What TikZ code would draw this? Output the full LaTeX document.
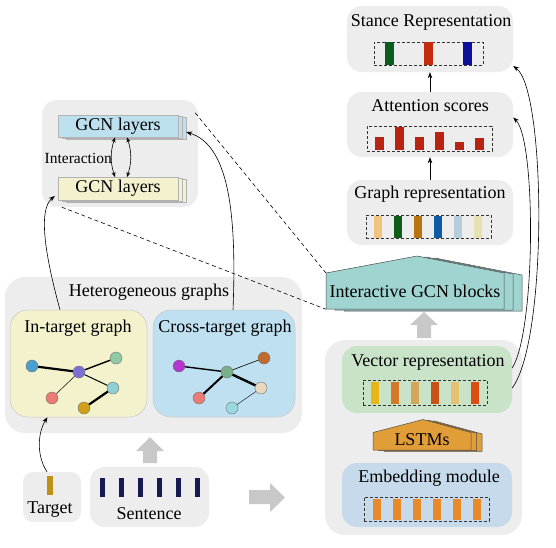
\documentclass[tikz,border=0pt]{standalone}
\usepackage{fontspec}
\setmainfont{Liberation Serif}
\usetikzlibrary{arrows.meta,calc}
\definecolor{boxgray}{HTML}{EDEDED}
\definecolor{gcnblue}{HTML}{BDE0EF}
\definecolor{gcnyellow}{HTML}{F4F2CE}
\definecolor{inyellow}{HTML}{F3F2CD}
\definecolor{crossblue}{HTML}{BEE0F0}
\definecolor{igcncol}{HTML}{A0D4D0}
\definecolor{lstmcol}{HTML}{E19D38}
\definecolor{vecgreen}{HTML}{C9E3C9}
\definecolor{embblue}{HTML}{C6DAEB}
\definecolor{arrowgray}{HTML}{C8C8C8}
\definecolor{barA}{HTML}{F2C37E}\definecolor{barB}{HTML}{0E5E1A}
\definecolor{barC}{HTML}{B87412}\definecolor{barD}{HTML}{0F5BA6}
\definecolor{barE}{HTML}{B6CDDC}\definecolor{barF}{HTML}{E6E1B2}
\definecolor{vbA}{HTML}{E6B619}\definecolor{vbB}{HTML}{D6782A}
\definecolor{vbC}{HTML}{D3A659}\definecolor{vbD}{HTML}{C85318}
\definecolor{vbE}{HTML}{E5C273}\definecolor{vbF}{HTML}{DC4D12}
\definecolor{embbar}{HTML}{E8892A}
\definecolor{attbar}{HTML}{B82312}
\definecolor{stA}{HTML}{0B5C1F}\definecolor{stB}{HTML}{C52B0F}\definecolor{stC}{HTML}{0E0E9C}
\definecolor{sentbar}{HTML}{161A52}
\definecolor{tgtbar}{HTML}{BF9114}
\definecolor{nBlue}{HTML}{4A9FD0}\definecolor{nPurple}{HTML}{7B6FD6}
\definecolor{nGreen}{HTML}{8FC9A5}\definecolor{nRed}{HTML}{EC7B74}
\definecolor{nTeal}{HTML}{8ECFD4}\definecolor{nGold}{HTML}{D29F18}
\definecolor{nMag}{HTML}{B535D2}\definecolor{nGreen2}{HTML}{79B08A}
\definecolor{nBrown}{HTML}{C06A30}\definecolor{nBeige}{HTML}{E8D8C0}
\definecolor{nCyan}{HTML}{9AD8DF}
\tikzset{
  every node/.style={inner sep=0pt, font=\fontsize{18}{21}\selectfont},
  panel/.style={fill=boxgray, draw=none, rounded corners=#1},
  panel/.default=15pt,
  gcnlayer/.style={draw=gray!60, line width=0.4pt, minimum width=120pt, minimum height=22.5pt},
  dbox/.style={draw=black!80, dashed, line width=0.6pt, dash pattern=on 3pt off 2pt},
  gnode/.style={circle, draw=black!55, line width=0.4pt, minimum size=12pt},
  arr/.style={-{Stealth[length=6pt,width=4.5pt]}, line width=0.6pt},
  darr/.style={{Stealth[length=5pt,width=4pt]}-{Stealth[length=5pt,width=4pt]}, line width=0.6pt},
  fatarrow/.style={fill=arrowgray, draw=none},
  dline/.style={dashed, line width=0.6pt, dash pattern=on 4pt off 3pt},
}
\begin{document}
\begin{tikzpicture}[x=1pt,y=-1pt]
\useasboundingbox (0,0) rectangle (556,547);

% ---------- GCN layers panel ----------
\node[panel, minimum width=156pt, minimum height=107pt] (gcnbox) at (120,153.5) {};
\node[gcnlayer, fill=gcnblue] (gcntopcb) at (126,128) {};
\node[gcnlayer, fill=gcnblue] (gcntopca) at (122,127) {};
\node[gcnlayer, fill=gcnblue] (gcntop) at (118,126) {GCN layers};
\node[gcnlayer, fill=gcnyellow] (gcnbotcb) at (126,190.5) {};
\node[gcnlayer, fill=gcnyellow] (gcnbotca) at (122,189.5) {};
\node[gcnlayer, fill=gcnyellow] (gcnbot) at (118,188.5) {GCN layers};
\draw[darr] ([xshift=-3pt]gcntop.south) to[bend right=18] ([xshift=-3pt]gcnbot.north);
\draw[darr] ([xshift=9pt]gcntop.south) to[bend left=18] ([xshift=9pt]gcnbot.north);
\node[font=\fontsize{15.5}{18}\selectfont, anchor=east] (interlbl) at (112,158) {Interaction};

% ---------- Heterogeneous graphs ----------
\node[panel=20pt, minimum width=297pt, minimum height=156pt] (hetbox) at (153.5,355) {};
\node (hettitle) at (149,292) {Heterogeneous graphs};
\node[fill=inyellow, draw=gray!45, line width=0.5pt, rounded corners=18pt, minimum width=137pt, minimum height=107pt] (intarget) at (78.5,363.5) {};
\node[fill=crossblue, draw=gray!45, line width=0.5pt, rounded corners=18pt, minimum width=142pt, minimum height=107pt] (crosstarget) at (224,363.5) {};
\node (intitle) at (78,328) {In-target graph};
\node (crosstitle) at (225,328) {Cross-target graph};

% in-target graph
\node[gnode, fill=nBlue] (a1) at (32,366) {};
\node[gnode, fill=nPurple] (a2) at (79,372) {};
\node[gnode, fill=nGreen] (a3) at (116,358) {};
\node[gnode, fill=nRed] (a4) at (52,398) {};
\node[gnode, fill=nTeal] (a5) at (113,388) {};
\node[gnode, fill=nGold] (a6) at (84,408) {};
\draw[line width=2.2pt] (a1) -- (a2);
\draw[line width=1.4pt] (a2) -- (a3);
\draw[line width=0.5pt] (a2) -- (a4);
\draw[line width=1.0pt] (a2) -- (a5);
\draw[line width=2.2pt] (a5) -- (a6);

% cross-target graph
\node[gnode, fill=nMag] (b1) at (179,366) {};
\node[gnode, fill=nGreen2] (b2) at (227,372) {};
\node[gnode, fill=nBrown] (b3) at (264,358) {};
\node[gnode, fill=nRed] (b4) at (199,398) {};
\node[gnode, fill=nBeige] (b5) at (261,388) {};
\node[gnode, fill=nCyan] (b6) at (232,408) {};
\draw[line width=1.4pt] (b1) -- (b2);
\draw[line width=0.6pt] (b2) -- (b3);
\draw[line width=2.0pt] (b2) -- (b4);
\draw[line width=2.4pt] (b2) -- (b5);
\draw[line width=0.4pt] (b5) -- (b6);

% ---------- Target & Sentence ----------
\node[panel=10pt, minimum width=58pt, minimum height=50pt] (target) at (52,497) {};
\fill[tgtbar] (47,476) rectangle (53,495);
\node (targetlbl) at (50,510) {Target};
\node[panel=14pt, minimum width=119pt, minimum height=60pt] (sentence) at (149.5,497) {};
\foreach \i in {0,...,5} { \fill[sentbar] ({99.5+19.1*\i},478) rectangle ({104.5+19.1*\i},497); }
\node (sentlbl) at (149,514) {Sentence};

% fat arrows
\fill[fatarrow] (143,463) -- (143,451) -- (136,451) -- (150,437) -- (164,451) -- (157,451) -- (157,463) -- cycle;
\fill[fatarrow] (249,490) -- (270,490) -- (270,483) -- (285,497.5) -- (270,512) -- (270,504) -- (249,504) -- cycle;
\fill[fatarrow] (417,338) -- (417,325) -- (410,325) -- (424,312) -- (438,325) -- (431,325) -- (431,338) -- cycle;

% ---------- Right column top ----------
\node[panel, minimum width=166pt, minimum height=66pt] (stance) at (430,39) {};
\node (stancelbl) at (431,22) {Stance Representation};
\node[dbox, minimum width=109pt, minimum height=23pt] (stancebar) at (428.5,53.5) {};
\fill[stA] (384.5,42) rectangle (393.5,65);
\fill[stB] (423.5,42) rectangle (432.5,65);
\fill[stC] (462.5,42) rectangle (471.5,65);

\node[panel, minimum width=166pt, minimum height=65pt] (attn) at (430,124.5) {};
\node (attnlbl) at (430,106) {Attention scores};
\node[dbox, minimum width=125pt, minimum height=25pt] (attnbar) at (429.5,138.5) {};
\foreach \xc/\yt in {379/137, 399/127, 419/137, 439/132, 459/142, 479/138} {
  \fill[attbar] ({\xc-4.5},\yt) rectangle ({\xc+4.5},150);
}

\node[panel, minimum width=166pt, minimum height=65pt] (graphrep) at (430,212.5) {};
\node (graphlbl) at (430,194) {Graph representation};
\node[dbox, minimum width=125pt, minimum height=23pt] (graphbar) at (428.5,226.5) {};
\foreach \i/\c in {0/barA, 1/barB, 2/barC, 3/barD, 4/barE, 5/barF} {
  \fill[\c] ({373.8+20*\i},215.5) rectangle ({382.3+20*\i},237.5);
}
\draw[arr] (graphrep.north) -- (attn.south);
\draw[arr] (attn.north) -- (stance.south);

% ---------- Interactive GCN blocks ----------
\foreach \dx/\dy in {18/2, 9/1, 0/0} {
  \filldraw[fill=igcncol, draw=black!70, line width=0.5pt, shift={(\dx,\dy)}]
    (326,309) -- (326,273) -- (417,256) -- (504,273) -- (504,309) -- cycle;
}
\node[minimum width=178pt, minimum height=36pt] (igcn) at (415,291) {Interactive GCN blocks};

% ---------- Right column bottom ----------
\node[panel=20pt, minimum width=197pt, minimum height=195pt] (lowbox) at (423.5,437.5) {};
\node[fill=vecgreen, rounded corners=15pt, minimum width=170pt, minimum height=67pt] (vecrep) at (427,379.5) {};
\node (veclbl) at (428,362) {Vector representation};
\node[dbox, minimum width=124pt, minimum height=25pt] (vecbar) at (425,392.5) {};
\foreach \i/\c in {0/vbA, 1/vbB, 2/vbC, 3/vbD, 4/vbE, 5/vbF} {
  \fill[\c] ({370.8+20*\i},382) rectangle ({379.3+20*\i},404);
}
\foreach \dx/\dy in {11/1.4, 5.5/0.7, 0/0} {
  \filldraw[fill=lstmcol, draw=black!70, line width=0.5pt, shift={(\dx,\dy)}]
    (373,450) -- (373,432.5) -- (423,419.5) -- (471,432.5) -- (471,450) -- cycle;
}
\node (lstm) at (422,440) {LSTMs};
\node[fill=embblue, rounded corners=15pt, minimum width=170pt, minimum height=64pt] (embed) at (427,495) {};
\node (emblbl) at (429,478) {Embedding module};
\node[dbox, minimum width=125pt, minimum height=24pt] (embbar) at (426.5,509) {};
\foreach \i in {0,...,5} { \fill[embbar] ({372.8+20*\i},498.5) rectangle ({381.3+20*\i},520); }

% ---------- connectors ----------
\draw[dline] ([xshift=-3pt,yshift=-13pt]gcnbox.north east) -- (igcn.north west);
\draw[dline] ([xshift=20pt]gcnbox.south west) -- (igcn.south west);
\draw[arr] ([xshift=-18.5pt]intarget.north) .. controls (45,255) and (38,210) .. ([xshift=-3pt,yshift=4pt]gcnbot.south west);
\draw[arr] ([xshift=9pt]crosstarget.north) .. controls (237,210) and (228,145) .. ([yshift=-4pt]gcntopcb.east);
\draw[arr] ([yshift=11.5pt]vecrep.east) .. controls (536,330) and (536,140) .. ([yshift=7pt]attn.east);
\draw[arr] ([yshift=-8.5pt]vecrep.east) .. controls (548,340) and (546,90) .. ([yshift=-27pt]stance.east);
\draw[arr] ([xshift=-5pt]target.north) .. controls (36,455) and (38,432) .. ([xshift=-31pt]intarget.south);
\end{tikzpicture}
\end{document}
